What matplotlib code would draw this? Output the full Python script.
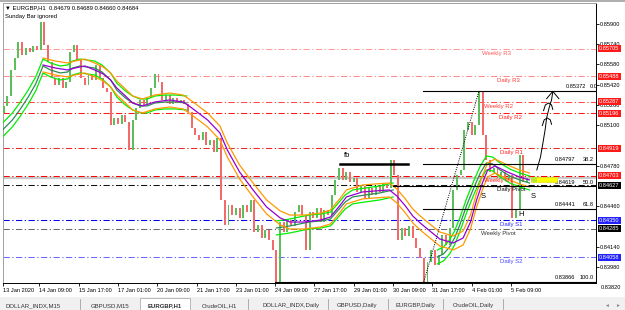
"""
EURGBP H1 chart in the style of an MT4 screenshot:
candles, two MA envelopes, pivot levels, fib retracement and chart notes.
"""

import numpy as np
import matplotlib
matplotlib.use("Agg")
import matplotlib.pyplot as plt
import matplotlib.transforms as mtransforms
from matplotlib.patches import Rectangle

FONT = ["Liberation Sans", "DejaVu Sans"]
plt.rcParams.update({"font.family": FONT, "font.size": 4.2, "axes.linewidth": 0.7})

# ── Data ─────────────────────────────────────────────────
# closes, one value every 3 hourly bars (bar index = 4 + 3*k)
CLOSE = [
    0.85253, 0.85332, 0.85537, 0.85631, 0.85758, 0.85655, 0.85710, 0.85679, 0.85726, 0.85695,
    0.85915, 0.85734, 0.85600, 0.85474, 0.85418, 0.85474, 0.85395, 0.85442, 0.85679, 0.85734,
    0.85616, 0.85474, 0.85418, 0.85497, 0.85458, 0.85576, 0.85474, 0.85395, 0.85363, 0.85103,
    0.85158, 0.85111, 0.85182, 0.85126, 0.84906, 0.85142, 0.85237, 0.85300, 0.85261, 0.85316,
    0.85395, 0.85505, 0.85442, 0.85300, 0.85339, 0.85268, 0.85316, 0.85276, 0.85300, 0.85268,
    0.85205, 0.85079, 0.85025, 0.84984, 0.85048, 0.84945, 0.84984, 0.84890, 0.85000, 0.84511,
    0.84315, 0.84472, 0.84394, 0.84449, 0.84370, 0.84472, 0.84417, 0.84511, 0.84260, 0.84315,
    0.84212, 0.84275, 0.84196, 0.84118, 0.83866, 0.84338, 0.84260, 0.84354, 0.84307, 0.84417,
    0.84472, 0.84394, 0.84118, 0.84417, 0.84370, 0.84449, 0.84338, 0.84433, 0.84394, 0.84551,
    0.84669, 0.84763, 0.84669, 0.84733, 0.84654, 0.84685, 0.84575, 0.84622, 0.84528, 0.84607,
    0.84551, 0.84622, 0.84575, 0.84638, 0.84607, 0.84827, 0.84709, 0.84196, 0.84291, 0.84228,
    0.84307, 0.84212, 0.84133, 0.84054, 0.83866, 0.84023, 0.84118, 0.83999, 0.84078, 0.84236,
    0.84157, 0.84291, 0.84591, 0.84709, 0.84748, 0.85063, 0.85126, 0.85025, 0.85103, 0.85372,
    0.85025, 0.84827, 0.84733, 0.84763, 0.84685, 0.84733, 0.84669, 0.84709, 0.84370, 0.84433,
    0.84866, 0.84654, 0.84684,
]
OPEN_FIRST = 0.85200
BAR_FIRST, BAR_STEP = 4, 3

# green MA channel (three visible stretches)
GREEN_BARS = [
    [3, 11, 17, 24, 30, 36, 42, 50, 56, 60, 66, 72, 78, 84, 91, 96, 103, 109, 115, 121, 127, 135, 144, 153],
    [226, 237, 245, 253, 262, 270, 275, 282, 288, 298, 310, 321],
    [357, 362, 367, 371, 375, 381, 387, 392, 397, 402, 408, 416, 424, 432],
]
GREEN_MID = [
    [0.85063, 0.85142, 0.85221, 0.85324, 0.85426, 0.85568, 0.85537, 0.85513, 0.85521, 0.85552,
     0.85568, 0.85560, 0.85552, 0.85521, 0.85458, 0.85379, 0.85316, 0.85276, 0.85253, 0.85253,
     0.85276, 0.85284, 0.85284, 0.85276],
    [0.84290, 0.84306, 0.84322, 0.84338, 0.84345, 0.84361, 0.84416, 0.84495, 0.84535, 0.84550,
     0.84566, 0.84590],
    [0.84061, 0.84085, 0.84140, 0.84211, 0.84306, 0.84471, 0.84614, 0.84724, 0.84803, 0.84795,
     0.84748, 0.84700, 0.84669, 0.84645],
]

# purple MA with orange envelope
PURPLE_BARS = [36, 46, 56, 62, 70, 78, 85, 91, 96, 103, 109, 117, 127, 139, 150, 156, 170, 180,
               186, 196, 207, 218, 229, 237, 249, 262, 270, 278, 283, 296, 306, 318, 324, 331,
               337, 343, 351, 359, 370, 378, 384, 389, 394, 398, 404, 414, 424, 432]
PURPLE_MID = [0.85576, 0.85552, 0.85537, 0.85552, 0.85568, 0.85537, 0.85505, 0.85458, 0.85395,
              0.85332, 0.85276, 0.85253, 0.85284, 0.85300, 0.85284, 0.85245, 0.85142, 0.85040,
              0.84906, 0.84732, 0.84590, 0.84456, 0.84370, 0.84337, 0.84337, 0.84353, 0.84377,
              0.84471, 0.84535, 0.84574, 0.84582, 0.84590, 0.84543, 0.84464, 0.84385, 0.84330,
              0.84266, 0.84203, 0.84172, 0.84211, 0.84337, 0.84511, 0.84653, 0.84748, 0.84779,
              0.84732, 0.84692, 0.84669]
BAND = 0.00055

LEVEL_NAMES  = ["Weekly R3", "Daily R3", "Weekly R2", "Daily R2", "Daily R1", "Weekly R1",
                "Daily Pivot", "Daily S1", "Weekly Pivot", "Daily S2"]
LEVEL_PRICES = [0.85705, 0.85488, 0.85287, 0.85196, 0.84919, 0.84703,
                0.84627, 0.84350, 0.84285, 0.84058]

FIB_PRICES = [0.85372, 0.84797, 0.84619, 0.84441, 0.83866]
FIB_LEVELS = ["0.0", "38.2", "50.0", "61.8", "100.0"]

BID = 0.84684
# price-scale labels left visible (the others sit under the level boxes)
Y_TICKS = [0.83980, 0.84140, 0.84460, 0.84780, 0.85100, 0.85260,
           0.85420, 0.85580, 0.85740, 0.85900]
X_TICKS = [3.5, 33, 65, 97, 129, 161, 193, 225, 257, 289, 321, 353, 385, 417]
X_LABELS = ["13 Jan 2020", "14 Jan 09:00", "15 Jan 17:00", "17 Jan 01:00", "20 Jan 09:00",
            "21 Jan 17:00", "23 Jan 01:00", "24 Jan 09:00", "27 Jan 17:00", "29 Jan 01:00",
            "30 Jan 09:00", "31 Jan 17:00", "4 Feb 01:00", "5 Feb 09:00"]
TABS = ["DOLLAR_INDX,M15", "GBPUSD,M15", "EURGBP,H1", "CrudeOIL,H1",
        "DOLLAR_INDX,Daily", "GBPUSD,Daily", "EURGBP,Daily", "CrudeOIL,Daily"]

# ── Styles ───────────────────────────────────────────────
RED = "#ff1a1a"; BLUE = "#2222ff"; BLK = "#000000"
LEVEL_LINE_COL = ["#ff9a9a", "#ff8c8c", "#ff4a4a", "#ff1a1a", "#e62a2a", "#ff0000",
                  "#111111", "#0000ee", "#6a6a6a", "#6a6aff"]
LEVEL_BOX_COL  = [RED, RED, RED, RED, RED, RED, BLK, BLUE, BLK, BLUE]
LEVEL_TXT_COL  = ["#ff5a5a", "#ff3a3a", "#ff3a3a", "#ff2020", "#ff2020", "#ff2020",
                  "#111111", "#2a2aff", "#333333", "#4a4aff"]
LEVEL_TXT_X    = [0.833, 0.853, 0.835, 0.855, 0.857, 0.835, 0.857, 0.857, 0.836, 0.857]
DASHDOT = (0, (6, 2.4, 1.2, 2.4))
UP = "#5cbf5c"; DN = "#f46a6a"

W, H = 625, 310
fig = plt.figure(figsize=(W / 100, H / 100), dpi=100, facecolor="white")
ax = fig.add_axes([3 / W, 1 - 283 / H, 593 / W, 280 / H])
ax.set_facecolor("white")
ax.set_xlim(3.4, 486.2)
ax.set_ylim(0.83856, 0.86065)

# candles
close = np.array(CLOSE)
opn = np.concatenate([[OPEN_FIRST], close[:-1]])
xb = BAR_FIRST + BAR_STEP * np.arange(len(close))
body = np.maximum(np.abs(close - opn), 0.00004)
cols = [UP if c >= o else DN for o, c in zip(opn, close)]
ax.bar(xb, body, bottom=np.minimum(opn, close), width=1.6, color=cols, linewidth=0, zorder=3)

# MA lines
for bars, mid in zip(GREEN_BARS, GREEN_MID):
    m = np.array(mid)
    ax.plot(bars, m + BAND, color="#00ee00", lw=0.9, zorder=4)
    ax.plot(bars, m, color="#2e8b57", lw=0.9, zorder=4)
    ax.plot(bars, m - BAND, color="#00ee00", lw=0.9, zorder=4)
pm = np.array(PURPLE_MID)
ax.plot(PURPLE_BARS, pm + BAND, color="#ff9900", lw=0.9, zorder=4)
ax.plot(PURPLE_BARS, pm, color="#9400d3", lw=0.9, zorder=4)
ax.plot(PURPLE_BARS, pm - BAND, color="#ff9900", lw=0.9, zorder=4)

# bid line
ax.axhline(BID, color="#c8c8c8", lw=1.6, zorder=1)

# pivot levels
tr_y = mtransforms.blended_transform_factory(ax.transAxes, ax.transData)
for name, p, lc, bc, tc, tx in zip(LEVEL_NAMES, LEVEL_PRICES, LEVEL_LINE_COL,
                                   LEVEL_BOX_COL, LEVEL_TXT_COL, LEVEL_TXT_X):
    ax.axhline(p, color=lc, lw=0.75, linestyle=DASHDOT, zorder=2)
    ax.annotate(name, (tx, p), xycoords=tr_y, xytext=(0, -3.2), textcoords="offset points",
                ha="center", va="center", color=tc, fontsize=4.3, zorder=6)
    ax.annotate(f"{p:.5f}", (1.0, p), xycoords=tr_y, xytext=(2.3, 0), textcoords="offset points",
                ha="left", va="center", color="white", fontsize=4.1, annotation_clip=False,
                bbox=dict(boxstyle="square,pad=0.18", fc=bc, ec="none"), zorder=10)

# fibonacci retracement
fib_start = [345, 345, 321, 345, 225]
for p, lev, x0 in zip(FIB_PRICES, FIB_LEVELS, fib_start):
    ax.plot([x0, 486.2], [p, p], color=BLK, lw=0.8, zorder=5)
    if lev == "0.0":
        ax.annotate(f"{p:.5f}", (0.983, p), xycoords=tr_y, xytext=(0, 1), textcoords="offset points",
                    ha="right", va="bottom", fontsize=4.1, zorder=6)
        t = ax.annotate(lev, (0.99, p), xycoords=tr_y, xytext=(0, 1), textcoords="offset points",
                        ha="left", va="bottom", fontsize=4.1, zorder=6)
        t.set_clip_on(True)
    else:
        ax.annotate(f"{p:.5f}", (0.9646, p), xycoords=tr_y, xytext=(0, 1), textcoords="offset points",
                    ha="right", va="bottom", fontsize=4.1, zorder=6)
        ax.annotate(lev, (0.9966, p), xycoords=tr_y, xytext=(0, 1), textcoords="offset points",
                    ha="right", va="bottom", fontsize=4.1, zorder=6)

# dotted trendline low -> high
ax.plot([346, 391], [FIB_PRICES[4], FIB_PRICES[0]], color=BLK, lw=0.7, ls=(0, (1, 1.3)), zorder=5)

# "fb" level
ax.plot([278, 333], [FIB_PRICES[1], FIB_PRICES[1]], color=BLK, lw=1.8, zorder=5)
ax.text(283.5, 0.84858, "fb", fontsize=5.5, ha="center", va="center", zorder=6)

# S / H / S labels
ax.text(394, 0.84535, "S", fontsize=5.5, ha="center", va="center", zorder=6)
ax.text(435, 0.84535, "S", fontsize=5.5, ha="center", va="center", zorder=6)
ax.text(425, 0.84400, "H", fontsize=5.5, ha="center", va="center", zorder=6)

# yellow box and hand-drawn arrow
ax.add_patch(Rectangle((433.3, 0.84653), 21.2, 0.00040, fc="#ffff00", ec="#d8d800", lw=0.4, zorder=6))
ax.add_patch(Rectangle((433.3, 0.84653), 5.0, 0.00040, fc="#b8e830", ec="none", zorder=6))
ax.plot([438, 441, 443, 445, 446, 448, 450, 451],
        [0.84748, 0.84850, 0.84961, 0.85079, 0.85158, 0.85237, 0.85300, 0.85363],
        color=BLK, lw=0.7, zorder=6)
for hx, hy in [(446.5, 0.85158), (447.5, 0.85276)]:
    ax.plot([hx - 4, hx - 2.5, hx, hx + 2.5, hx + 3.5],
            [hy - 0.00060, hy - 0.00015, hy, hy - 0.00015, hy - 0.00050],
            color=BLK, lw=0.7, zorder=6)
ax.plot([446, 451, 456], [0.85310, 0.85368, 0.85310], color=BLK, lw=0.7, zorder=6)

# axes styling
ax.yaxis.tick_right()
ax.set_yticks(Y_TICKS)
ax.set_yticklabels([f"{v:.5f}" for v in Y_TICKS])
ax.tick_params(axis="y", length=2, width=0.6, pad=1, labelsize=4.1)
ax.annotate("0.83820", (1.0, 0.83820), xycoords=tr_y, xytext=(3.5, 0), textcoords="offset points",
            ha="left", va="center", fontsize=4.1, annotation_clip=False)
ax.set_xticks(X_TICKS)
ax.set_xticklabels(X_LABELS)
for lbl in ax.get_xticklabels():
    lbl.set_ha("left")
ax.tick_params(axis="x", length=2, width=0.6, pad=1.5, labelsize=4.1)
for s in ["left", "top"]:
    ax.spines[s].set_color("#a0a0a0")
for s in ["right", "bottom"]:
    ax.spines[s].set_color(BLK)

# header text
ax.text(0.004, 0.982, "▼ EURGBP,H1  0.84679 0.84689 0.84660 0.84684", transform=ax.transAxes,
        ha="left", va="center", fontsize=4.2, zorder=7)
ax.text(0.004, 0.953, "Sunday Bar ignored", transform=ax.transAxes,
        ha="left", va="center", fontsize=4.2, zorder=7)

# tab strip
fig.patches.append(Rectangle((0, 0), 1, 13 / H, transform=fig.transFigure, fc="#f0f0f0",
                             ec="none", zorder=0))
fig.patches.append(Rectangle((140 / W, 0), 50 / W, 12 / H, transform=fig.transFigure,
                             fc="white", ec="#a0a0a0", lw=0.5, zorder=1))
tab_cx = [33, 110, 164.5, 219, 291, 357, 415, 473]
for sep in [80, 248, 328, 388, 443, 503]:
    fig.lines.append(plt.Line2D([sep / W, sep / W], [1 / H, 11 / H], transform=fig.transFigure,
                                color="#909090", lw=0.5))
for name, cx in zip(TABS, tab_cx):
    fig.text(cx / W, 4 / H, name, ha="center", va="center", fontsize=4.3, color="#333333",
             fontweight="bold" if name == "EURGBP,H1" else "normal")
fig.text(606 / W, 5 / H, "◄", ha="center", va="center", fontsize=3.5, color="#888888")
fig.text(617 / W, 5 / H, "►", ha="center", va="center", fontsize=3.5, color="#888888")
fig.lines.append(plt.Line2D([0, 1], [1 - 1 / H, 1 - 1 / H], transform=fig.transFigure,
                            color="#a0a0a0", lw=1.2))

fig.savefig("out.png", dpi=100)
